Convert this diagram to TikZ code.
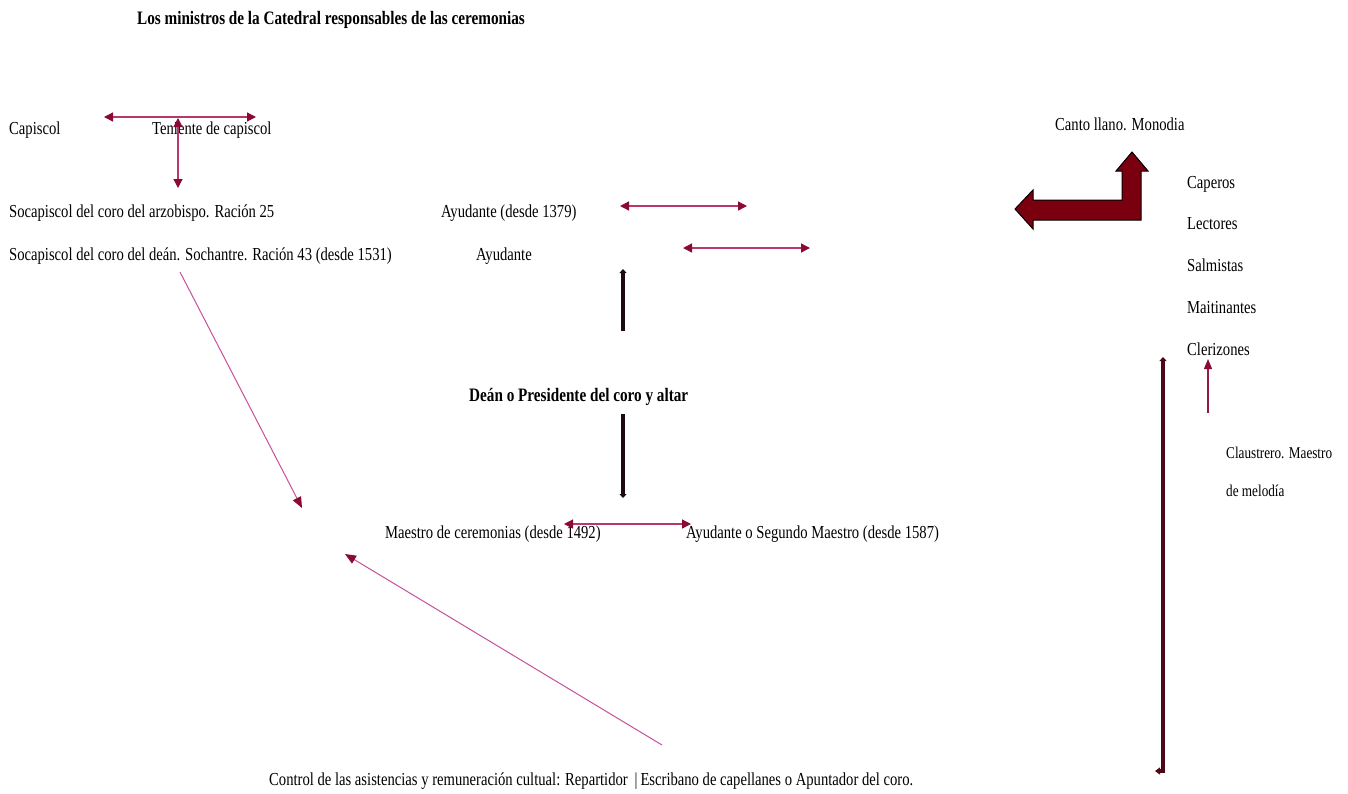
\documentclass[tikz,border=0pt]{standalone}
\usepackage{fontspec}
\setmainfont{Liberation Serif}[FakeStretch=0.8]
\usetikzlibrary{arrows.meta}
\definecolor{headred}{HTML}{8A0A35}
\definecolor{shaftrose}{HTML}{B8386C}
\definecolor{pinkline}{HTML}{C8509A}
\definecolor{blackish}{HTML}{1C0A10}
\definecolor{maroon}{HTML}{4A0818}
\definecolor{blockred}{HTML}{7A0010}
\tikzset{
  lbl/.style={anchor=base west, inner sep=0pt, font=\fontsize{18.3}{20}\selectfont},
  blbl/.style={lbl, font=\fontsize{19}{21}\selectfont\bfseries},
  slbl/.style={lbl, font=\fontsize{16.5}{18}\selectfont},
  dblarrow/.style={draw=shaftrose, line width=1.3pt,
     {Triangle[length=9pt,width=9pt,color=headred]}-{Triangle[length=9pt,width=9pt,color=headred]}},
  pinkarrow/.style={draw=pinkline, line width=1pt,
     -{Triangle[length=11pt,width=9pt,color=headred]}},
  thickarrow/.style={draw=blackish, line width=3.8pt,
     -{Triangle[length=4pt,width=7pt]}},
  longarrow/.style={draw=maroon, line width=3.2pt,
     {Triangle[length=4pt,width=7pt]}-{Triangle[length=5pt,width=7pt]}},
  redarrow/.style={draw=headred!80!pinkline, line width=1.1pt,
     -{Triangle[length=10pt,width=8pt,color=headred]}},
  blockarrow/.style={fill=blockred, draw=black, line width=1pt, line join=miter}
}
\begin{document}
\begin{tikzpicture}[x=1pt,y=-1pt]
\useasboundingbox (0,0) rectangle (1348,793);
\fill[white] (0,0) rectangle (1348,793);

% texts
\node[blbl] (title) at (137,24) {Los ministros de la Catedral responsables de las ceremonias};
\node[lbl] (capiscol) at (9,134) {Capiscol};
\node[lbl] (teniente) at (152,134) {Teniente de capiscol};
\node[lbl] (soca1) at (9,217) {Socapiscol del coro del arzobispo. Ración 25};
\node[lbl] (soca2) at (9,260) {Socapiscol del coro del deán. Sochantre. Ración 43 (desde 1531)};
\node[lbl] (ayud1) at (441,217) {Ayudante (desde 1379)};
\node[lbl] (ayud2) at (476,260) {Ayudante};
\node[blbl] (dean) at (469,401) {Deán o Presidente del coro y altar};
\node[lbl] (maestro) at (385,538) {Maestro de ceremonias (desde 1492)};
\node[lbl] (segundo) at (686,538) {Ayudante o Segundo Maestro (desde 1587)};
\node[lbl] (control) at (269,785) {Control de las asistencias y remuneración cultual: Repartidor \,|\,Escribano de capellanes o Apuntador del coro.};
\node[lbl] (canto) at (1055,130) {Canto llano. Monodia};
\node[lbl] (caperos) at (1187,188) {Caperos};
\node[lbl] (lectores) at (1187,229) {Lectores};
\node[lbl] (salmistas) at (1187,271) {Salmistas};
\node[lbl] (maitin) at (1187,313) {Maitinantes};
\node[lbl] (clerizones) at (1187,355) {Clerizones};
\node[slbl] (claus1) at (1226,458) {Claustrero. Maestro};
\node[slbl] (claus2) at (1226,496) {de melodía};

% connector end points
\coordinate (capL) at (104,117);
\coordinate (capR) at (256,117);
\coordinate (capT) at (178,118);
\coordinate (capB) at (178,188);
\coordinate (a1L) at (620,206);
\coordinate (a1R) at (747,206);
\coordinate (a2L) at (683,248);
\coordinate (a2R) at (810,248);
\coordinate (mL) at (564,524);
\coordinate (mR) at (691,524);
\coordinate (p1s) at (180,272);
\coordinate (p1e) at (302,508);
\coordinate (p2s) at (662,745);
\coordinate (p2e) at (345,554);
\coordinate (t1s) at (623,331);
\coordinate (t1e) at (623,269);
\coordinate (t2s) at (623,414);
\coordinate (t2e) at (623,498);
\coordinate (rs) at (1208,413);
\coordinate (re) at (1208,359);
\coordinate (lT) at (1163,357);
\coordinate (lB) at (1163,771);
\coordinate (lH) at (1155,771);

% connectors
\draw[dblarrow] (capL) -- (capR);
\draw[dblarrow] (capT) -- (capB);
\draw[dblarrow] (a1L) -- (a1R);
\draw[dblarrow] (a2L) -- (a2R);
\draw[dblarrow] (mL) -- (mR);
\draw[pinkarrow] (p1s) -- (p1e);
\draw[pinkarrow] (p2s) -- (p2e);
\draw[thickarrow] (t1s) -- (t1e);
\draw[thickarrow] (t2s) -- (t2e);
\draw[redarrow] (rs) -- (re);
\draw[longarrow] (lT) -- (lB) -- (lH);

% bent block arrow
\draw[blockarrow] (1015,209) -- (1033,190) -- (1033,200) -- (1122,200) -- (1122,171)
  -- (1116,171) -- (1132,152) -- (1148,171) -- (1141,171) -- (1141,220)
  -- (1033,220) -- (1033,229) -- cycle;
\end{tikzpicture}
\end{document}
